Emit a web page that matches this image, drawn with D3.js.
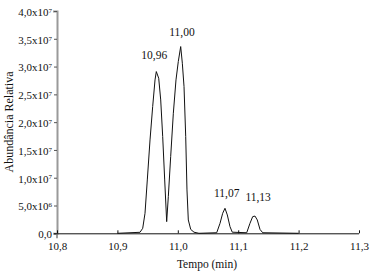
<!DOCTYPE html>
<html>
<head>
<meta charset="utf-8">
<script src="https://cdn.jsdelivr.net/npm/d3@7"></script>
<style>
  body { margin: 0; background: #fff; }
  svg text { font-family: "Liberation Serif", "Times New Roman", Times, "DejaVu Serif", serif; fill: #111; }
</style>
</head>
<body>
<div id="chart"></div>
<script>
// Chromatogram: relative abundance vs retention time

// trace (time in min, abundance)
const times = [10.90, 10.9374, 10.9419, 10.9457, 10.9495, 10.9540, 10.9584, 10.9623, 10.9644,
  10.9684, 10.9717, 10.9750, 10.9783, 10.9816, 10.9843, 10.9882, 10.9926, 10.9970, 11.0008,
  11.0048, 11.0075, 11.0103, 11.0131, 11.0152, 11.0174, 11.0214, 11.0268, 11.035,
  11.0644, 11.0699, 11.0743, 11.0781, 11.0820, 11.0864, 11.0902,
  11.1141, 11.1195, 11.1240, 11.1278, 11.1316, 11.1361, 11.1406, 11.20];
const abundance = [0, 0.018e7, 0.09e7, 0.36e7, 0.96e7, 1.68e7, 2.28e7, 2.76e7, 2.91e7,
  2.79e7, 2.40e7, 1.74e7, 0.96e7, 0.21e7, 0.66e7, 1.38e7, 2.16e7, 2.76e7, 3.09e7,
  3.36e7, 3.06e7, 2.64e7, 1.74e7, 0.78e7, 0.24e7, 0.07e7, 0.02e7, 0,
  0.01e7, 0.18e7, 0.36e7, 0.45e7, 0.33e7, 0.12e7, 0.02e7,
  0.01e7, 0.18e7, 0.30e7, 0.31e7, 0.24e7, 0.07e7, 0.01e7, 0];

// peak annotations
const peakLabels = ["10,96", "11,00", "11,07", "11,13"];
const peakLabelTimes = [10.961, 11.007, 11.081, 11.133];
const peakLabelLevels = [3.135e7, 3.55e7, 0.653e7, 0.58e7];

// axes
const xTicks = [10.8, 10.9, 11.0, 11.1, 11.2, 11.3];
const xTickLabels = ["10,8", "10,9", "11,0", "11,1", "11,2", "11,3"];
const yTicks = [0, 5e6, 1e7, 1.5e7, 2e7, 2.5e7, 3e7, 3.5e7, 4e7];
const yTickMantissa = ["0,0", "5,0x10", "1,0x10", "1,5x10", "2,0x10", "2,5x10", "3,0x10", "3,5x10", "4,0x10"];
const yTickExponent = ["", "6", "7", "7", "7", "7", "7", "7", "7"];

const width = 372, height = 275;
const margin = { top: 11, right: 13, bottom: 42, left: 57 };
const serif = '"Liberation Serif", "Times New Roman", Times, serif';

const svg = d3.select("#chart").append("svg")
  .attr("width", width)
  .attr("height", height)
  .attr("font-family", serif);

const x = d3.scaleLinear()
  .domain([10.8, 11.3])
  .range([margin.left, width - margin.right]);

const y = d3.scaleLinear()
  .domain([0, 4e7])
  .range([height - margin.bottom + 0.3, margin.top]);

// Y axis (grey, ticks outward)
const yAxis = svg.append("g")
  .attr("transform", `translate(${margin.left},0)`)
  .call(d3.axisLeft(y).tickValues(yTicks).tickSize(3).tickSizeOuter(4).tickPadding(3).tickFormat(""));
yAxis.attr("font-family", serif);
yAxis.select(".domain").attr("stroke", "#9a9a9a").attr("stroke-width", 2);
yAxis.selectAll(".tick line").attr("stroke", "#555");

svg.append("line")
  .attr("x1", margin.left).attr("x2", margin.left)
  .attr("y1", y(0)).attr("y2", y(0) + 5)
  .attr("stroke", "#9a9a9a").attr("stroke-width", 2);

const yLab = yAxis.selectAll(".tick text")
  .text(null)
  .attr("x", -5)
  .attr("dy", "0.40em")
  .style("font-size", "11px");
yLab.each(function(d) {
  const i = yTicks.indexOf(d);
  const t = d3.select(this);
  t.append("tspan").text(yTickMantissa[i]);
  if (yTickExponent[i]) {
    t.append("tspan").attr("dy", "-0.45em").style("font-size", "7px").text(yTickExponent[i]);
  }
});

// X axis (black, ticks inward)
const xAxis = svg.append("g")
  .attr("transform", `translate(0,${y(0)})`)
  .call(d3.axisBottom(x).tickValues(xTicks).tickSize(-3).tickSizeOuter(0).tickPadding(9)
    .tickFormat((d, i) => xTickLabels[i]));
xAxis.attr("font-family", serif);
xAxis.select(".domain").attr("stroke", "#111").attr("d", `M${margin.left - 3},0.5H${x(11.3)}`);
xAxis.selectAll(".tick line").attr("stroke", "#111");
xAxis.selectAll(".tick text").style("font-size", "11px").attr("fill", "#111");

// trace
const pts = times.map((t, i) => [t, abundance[i]]);
svg.append("path")
  .datum(pts)
  .attr("fill", "none")
  .attr("stroke", "#111")
  .attr("stroke-width", 1)
  .attr("stroke-linejoin", "round")
  .attr("d", d3.line().x(d => x(d[0])).y(d => y(d[1])));

// peak labels
svg.selectAll(".peak")
  .data(peakLabels)
  .join("text")
  .attr("class", "peak")
  .attr("x", (d, i) => x(peakLabelTimes[i]))
  .attr("y", (d, i) => y(peakLabelLevels[i]))
  .attr("text-anchor", "middle")
  .style("font-size", "11.5px")
  .text(d => d);

// axis titles
svg.append("text")
  .attr("x", 207)
  .attr("y", 268)
  .attr("text-anchor", "middle")
  .style("font-size", "11.5px")
  .text("Tempo (min)");

svg.append("text")
  .attr("transform", "translate(13,122) rotate(-90)")
  .attr("text-anchor", "middle")
  .style("font-size", "12px")
  .text("Abundância Relativa");
</script>
</body>
</html>
